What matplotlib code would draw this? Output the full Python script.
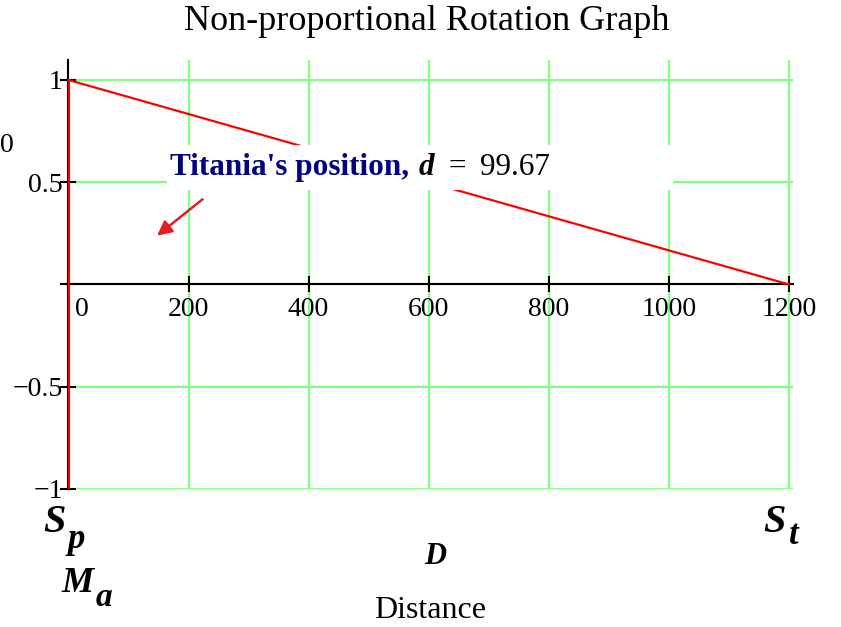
import matplotlib
matplotlib.use('Agg')
import matplotlib.pyplot as plt
from matplotlib.patches import Rectangle

plt.rcParams['font.family'] = ['Liberation Serif', 'DejaVu Serif']

# traces
dist_line = [0, 1200]
rot_line = [1, 0]
ma_x = [1, 1]
ma_y = [1, -1]

x_ticks = [0, 200, 400, 600, 800, 1000, 1200]
x_tick_labels = [' 0', '200', '400', '600', '800', '1000', '1200']
y_ticks = [1, 0.5, 0, -0.5, -1]
y_tick_labels = ['1', '0.5', '', '\u22120.5', '\u22121']

d_value = 99.67

fig = plt.figure(figsize=(8.41, 6.27), dpi=100)
ax = fig.add_axes([0.0799, 0.2201, 0.8633, 0.685])

grid_col = '#80ff80'
for xv in x_ticks[1:]:
    ax.axvline(xv, color=grid_col, lw=1.6, zorder=1)
for yv in y_ticks:
    ax.axhline(yv, color=grid_col, lw=1.6, zorder=1)

ax.plot(dist_line, rot_line, color='red', lw=1.6, zorder=4)
ax.plot(ma_x, ma_y, color='red', lw=1.6, zorder=4)

ax.set_xlim(-2, 1207)
ax.set_ylim(-1, 1.1)

for s in ['top', 'right']:
    ax.spines[s].set_visible(False)
ax.spines['left'].set_position(('data', 0))
ax.spines['bottom'].set_position(('data', 0))
ax.spines['left'].set_linewidth(1.5)
ax.spines['bottom'].set_linewidth(1.5)
ax.spines['left'].set_zorder(3)
ax.spines['bottom'].set_zorder(3)

ax.set_xticks(x_ticks)
ax.set_xticklabels(x_tick_labels)
ax.set_yticks(y_ticks)
ax.set_yticklabels(y_tick_labels)
ax.tick_params(direction='inout', length=12, width=1.5, labelsize=20, pad=3)
ax.tick_params(axis='y', pad=-2)
ax.get_xticklabels()[0].set_horizontalalignment('left')

# annotation box
ax.add_patch(Rectangle((164, 0.46), 843, 0.22, facecolor='white', edgecolor='none', zorder=5))
ax.text(169, 0.572, "Titania's position,", color='#000080', fontsize=22.5, fontweight='bold',
        va='center', ha='left', zorder=6)
ax.text(584, 0.572, 'd', color='black', fontsize=22.5, fontweight='bold', fontstyle='italic',
        va='center', ha='left', zorder=6)
ax.text(633, 0.572, '=', color='black', fontsize=22.5, va='center', ha='left', zorder=6)
ax.text(686, 0.572, str(d_value), color='black', fontsize=22.5, va='center', ha='left', zorder=6)
ax.annotate('', xy=(144, 0.23), xytext=(227, 0.425),
            arrowprops=dict(arrowstyle='-|>', color='#e02020', lw=1.8, mutation_scale=22), zorder=6)

fig.text(427 / 841, 1 - 22 / 627, 'Non-proportional Rotation Graph', ha='center', va='center', fontsize=26)

def sub_label(xm, ym, main, xs, ys, sub, size, subsize):
    fig.text(xm / 841, 1 - ym / 627, main, fontsize=size, fontweight='bold', fontstyle='italic',
             ha='center', va='center')
    fig.text(xs / 841, 1 - ys / 627, sub, fontsize=subsize, fontweight='bold',
             fontstyle='italic', ha='center', va='center')

sub_label(54, 523, 'S', 76, 540, 'p', 29, 25)
sub_label(774, 522, 'S', 794, 536, 't', 29, 25)
sub_label(78, 584, 'M', 104, 598, 'a', 26, 24)
fig.text(435 / 841, 1 - 557 / 627, 'D', fontsize=22, fontweight='bold', fontstyle='italic',
         ha='center', va='center')
fig.text(430 / 841, 1 - 610 / 627, 'Distance', fontsize=23, ha='center', va='center')
fig.text(0.0, 1 - 145 / 627, '0', fontsize=20, ha='left', va='center')

plt.savefig('out.png', dpi=100)
